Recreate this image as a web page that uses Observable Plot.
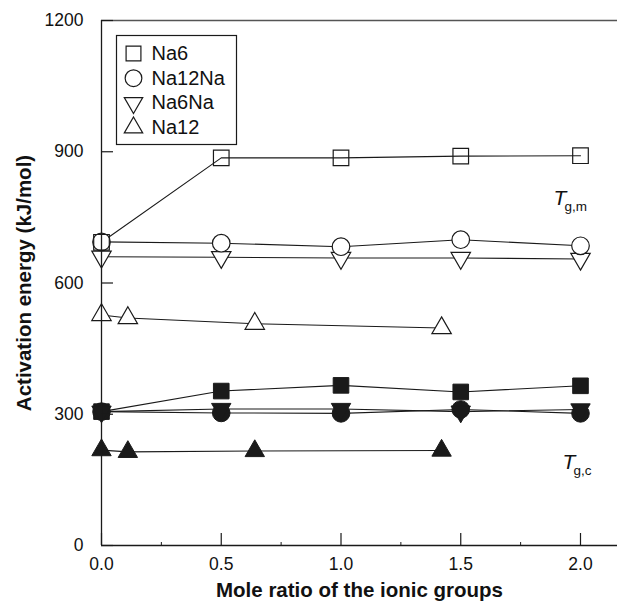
<!DOCTYPE html>
<html><head><meta charset="utf-8">
<script src="https://cdn.jsdelivr.net/npm/d3@7"></script>
<script src="https://cdn.jsdelivr.net/npm/@observablehq/plot@0.6"></script>
<style>
body{margin:0;background:#fff;}
#chart svg{display:block;}
</style>
</head><body><div id="chart"></div>
<script>
// ---- data ----
const seriesNames = ["Na6", "Na12Na", "Na6Na", "Na12"];
const xRatio = [0, 0.5, 1.0, 1.5, 2.0];          // Na6, Na12Na, Na6Na
const xRatioNa12 = [0, 0.11, 0.64, 1.42];        // Na12
// T g,m (open symbols)
const tgmNa6    = [693, 886, 886, 890, 891];
const tgmNa12Na = [694, 691, 683, 699, 685];
const tgmNa6Na  = [660, 659, 657, 657, 655];
const tgmNa12   = [527, 520, 507, 497];
// T g,c (filled symbols)
const tgcNa6    = [306, 353, 366, 351, 365];
const tgcNa12Na = [306, 303, 302, 311, 302];
const tgcNa6Na  = [306, 312, 312, 306, 311];
const tgcNa12   = [218, 214, 216, 217];
const xTicks = [0, 0.5, 1.0, 1.5, 2.0];
const xMinorTicks = [0.25, 0.75, 1.25, 1.75];
const yTicks = [0, 300, 600, 900, 1200];
const tgLabels = [{x: 1.887, y: 779, sub: "g,m"}, {x: 1.925, y: 174, sub: "g,c"}];
const xTitle = "Mole ratio of the ionic groups";
const yTitle = "Activation energy (kJ/mol)";

// ---- symbols ----
const sqrt3 = Math.sqrt(3);
const triUp = {draw(ctx, size) {
  const s = Math.sqrt(size * 4 / sqrt3), h = s * sqrt3 / 2;
  ctx.moveTo(0, -2 * h / 3); ctx.lineTo(s / 2, h / 3); ctx.lineTo(-s / 2, h / 3); ctx.closePath();
}};
const triDown = {draw(ctx, size) {
  const s = Math.sqrt(size * 4 / sqrt3), h = s * sqrt3 / 2;
  ctx.moveTo(0, 2 * h / 3); ctx.lineTo(s / 2, -h / 3); ctx.lineTo(-s / 2, -h / 3); ctx.closePath();
}};
const ink = "#1a1a1a";
const styles = [
  {symbol: "square", r: 8.8},
  {symbol: "circle", r: 8.8},
  {symbol: triDown, r: 7.2},
  {symbol: triUp, r: 7.2}
];

const rows = (xs, ys) => xs.map((x, i) => ({x, y: ys[i]}));
const tgmSets = [rows(xRatio, tgmNa6), rows(xRatio, tgmNa12Na), rows(xRatio, tgmNa6Na), rows(xRatioNa12, tgmNa12)];
const tgcSets = [rows(xRatio, tgcNa6), rows(xRatio, tgcNa12Na), rows(xRatio, tgcNa6Na), rows(xRatioNa12, tgcNa12)];

const marks = [];
// lines
[...tgcSets, ...tgmSets].forEach(d => marks.push(Plot.line(d, {x: "x", y: "y", stroke: ink, strokeWidth: 1.1})));
// filled markers
tgcSets.forEach((d, i) => marks.push(Plot.dot(d, {x: "x", y: "y", symbol: styles[i].symbol, r: styles[i].r, fill: ink, stroke: ink, strokeWidth: 1})));
// open markers (draw circle/triangles first, squares last)
[3, 2, 1, 0].forEach(i => marks.push(Plot.dot(tgmSets[i], {x: "x", y: "y", symbol: styles[i].symbol, r: styles[i].r,
  fill: i === 0 ? "none" : "white", stroke: ink, strokeWidth: 1.2})));

// axes lines and ticks
marks.push(
  Plot.ruleY([1200], {stroke: "#555", strokeWidth: 1.6}),
  Plot.ruleY([0], {stroke: ink, strokeWidth: 1.3}),
  Plot.ruleX([0], {stroke: ink, strokeWidth: 1.3}),
  Plot.tickX(xTicks, {x: d => d, insetTop: 513, stroke: ink, strokeWidth: 1.2}),
  Plot.tickX(xMinorTicks, {x: d => d, insetTop: 522, stroke: ink, strokeWidth: 1}),
  Plot.tickY(yTicks, {y: d => d, insetRight: 504, stroke: ink, strokeWidth: 1.2}),
  Plot.axisX(xTicks, {tickSize: 0, tickPadding: 12, tickFormat: d3.format(".1f"), fontSize: 17.5, label: null}),
  Plot.axisY(yTicks, {tickSize: 0, tickPadding: 18, tickFormat: d3.format("d"), fontSize: 17.5, label: null}),
  Plot.text([xTitle], {frameAnchor: "bottom", text: d => d, dy: 51, lineAnchor: "bottom", fontWeight: "bold", fontSize: 20.5}),
  Plot.text([yTitle], {frameAnchor: "left", text: d => d, dx: -77, rotate: -90, textAnchor: "middle", lineAnchor: "middle", fontWeight: "bold", fontSize: 20.5}),
  Plot.text(tgLabels, {x: "x", y: "y", text: () => "T", fontStyle: "italic", fontSize: 21, textAnchor: "start", lineAnchor: "bottom"}),
  Plot.text(tgLabels, {x: "x", y: "y", text: "sub", dx: 11, dy: 6, fontSize: 13.5, textAnchor: "start", lineAnchor: "bottom"})
);

// legend box inside the plot
marks.push(Plot.frame({insetLeft: 15, insetTop: 15, insetRight: 381, insetBottom: 401, stroke: ink, strokeWidth: 1.2}));
seriesNames.forEach((name, i) => {
  const dy = 33 + i * 24.7;
  marks.push(
    Plot.dot([name], {frameAnchor: "top-left", dx: 32, dy, symbol: styles[i].symbol, r: styles[i].r * 0.95, fill: "white", stroke: ink, strokeWidth: 1.2}),
    Plot.text([name], {frameAnchor: "top-left", text: d => d, dx: 50, dy, textAnchor: "start", lineAnchor: "middle", fontSize: 20})
  );
});

const chart = Plot.plot({
  width: 617,
  height: 602,
  marginLeft: 101,
  marginRight: 0,
  marginTop: 20,
  marginBottom: 57,
  style: {fontFamily: "'Liberation Sans', Arial, sans-serif", color: "#111", background: "#fff", overflow: "visible"},
  x: {domain: [0, 2.1545]},
  y: {domain: [0, 1200]},
  marks
});
document.getElementById("chart").appendChild(chart);
</script>
</body></html>
